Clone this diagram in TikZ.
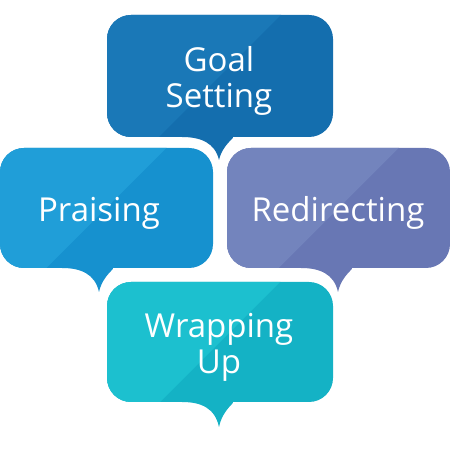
\documentclass[tikz,border=0pt]{standalone}
\usepackage{fontspec}
\setmainfont{Open Sans}
\usetikzlibrary{calc}
\definecolor{GoalLight}{RGB}{26,120,183}
\definecolor{GoalDark}{RGB}{20,110,174}
\definecolor{PraiseLight}{RGB}{32,158,216}
\definecolor{PraiseDark}{RGB}{22,145,207}
\definecolor{RedirLight}{RGB}{115,132,189}
\definecolor{RedirDark}{RGB}{104,119,180}
\definecolor{WrapLight}{RGB}{28,192,207}
\definecolor{WrapDark}{RGB}{20,178,197}

\begin{document}
\begin{tikzpicture}[x=1pt,y=1pt,
  bubble/.style={preaction={draw=white,line width=8pt}},
  bubbletext/.style={text=white,align=center,yshift=-5pt,font=\fontsize{33}{36}\selectfont}]
\useasboundingbox (0,0) rectangle (450,450);
\foreach \xa/\yb/\xb/\yt/\tx/\ty/\light/\dark/\nm/\txt in {
  107/313/333/435/219/290/GoalLight/GoalDark/goal/{Goal\\Setting},
  0/182/213/302/99/158/PraiseLight/PraiseDark/praise/{Praising},
  227/182/450/302/338/158/RedirLight/RedirDark/redirect/{Redirecting},
  107/48/333/168/219/23/WrapLight/WrapDark/wrap/{Wrapping\\Up}}{
\fill[\dark,bubble,path picture={\fill[\light] ({(\xa+\xb)/2},{(\yb+\yt)/2}) +(-300,-300) -- +(300,300) -- +(-300,300) -- cycle;}]
  (\xa,{(\yb+\yt)/2}) [rounded corners=24pt] -- (\xa,\yt) -- (\xb,\yt) -- (\xb,\yb) -- ({\tx+37},\yb)
  [sharp corners] .. controls ({\tx+18},\yb) and ({\tx+4},{\yb-6}) .. (\tx,\ty)
  .. controls ({\tx-4},{\yb-6}) and ({\tx-18},\yb) .. ({\tx-37},\yb)
  [rounded corners=24pt] -- (\xa,\yb) -- cycle;
\node[bubbletext] (\nm) at (\tx,{(\yb+\yt)/2}) {\txt};
}
\end{tikzpicture}
\end{document}
